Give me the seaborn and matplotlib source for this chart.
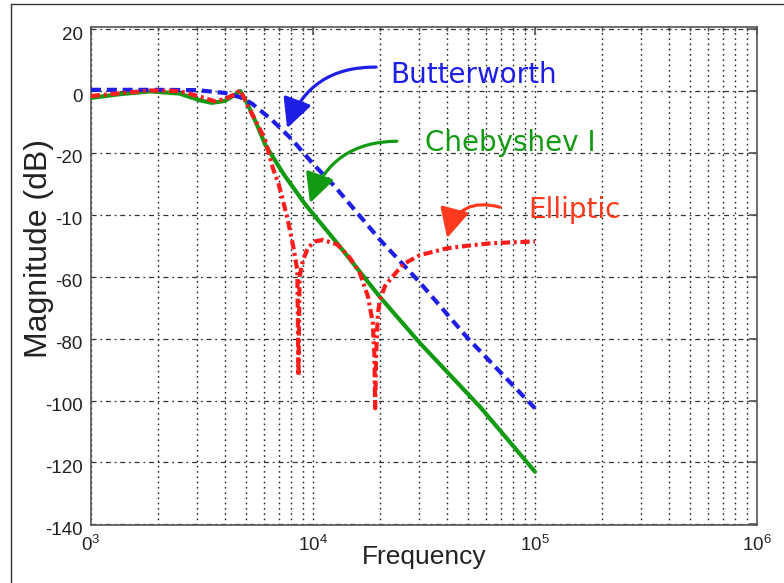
import matplotlib
matplotlib.use('Agg')
import matplotlib.pyplot as plt
import matplotlib.transforms as mtransforms
import seaborn as sns
import numpy as np
from matplotlib.patches import FancyArrowPatch
from matplotlib.lines import Line2D
from matplotlib.ticker import LogLocator, NullFormatter, FixedLocator

# ---------------- data ----------------
butter_f = [1000, 2000, 3000, 4000, 4700, 5300, 6500, 8000, 10000, 12600,
            20000, 30000, 50000, 100000]
butter_db = [0.4, 0.4, 0.3, -0.6, -2.0, -4.0, -9.2, -15.5, -23.5, -31.0,
             -48.0, -61.5, -80.0, -102.5]

cheby_f = [1000, 1350, 1850, 2500, 3100, 3500, 4000, 4450, 4700, 5100, 5600,
           6100, 7400, 9200, 12800, 20000, 30300, 56500, 100000]
cheby_db = [-2.2, -1.0, -0.1, -0.8, -3.0, -3.8, -3.2, -1.2, 0.0, -4.5, -11.0,
            -17.4, -27.0, -36.5, -49.0, -66.5, -81.4, -102.0, -123.0]

ellip_f = [1000, 1350, 1850, 2500, 3100, 3600, 4000, 4450, 4700, 5100, 5650,
           6100, 6600, 7000, 7330, 7720, 8150, 8500, 8600, 8700, 9020, 9500,
           10300, 11100, 12800, 13650, 14700, 16300, 17700, 18600, 18900,
           19050, 19250, 19600, 20000, 21100, 22200, 25400, 30300, 40100,
           52000, 62700, 77200, 100000]
ellip_db = [-1.6, -0.7, 0.2, 0.0, -1.8, -3.3, -2.6, -1.0, 0.3, -5.0, -11.0,
            -16.0, -25.0, -30.0, -35.5, -42.0, -50.3, -58.0, -92.0, -60.0,
            -54.6, -50.5, -48.5, -48.1, -49.5, -51.4, -54.0, -59.0, -66.5,
            -75.0, -85.0, -102.5, -85.0, -72.0, -67.5, -63.0, -61.0, -56.0,
            -53.0, -50.8, -49.8, -49.2, -48.9, -48.6]

y_ticks = [20, 0, -20, -40, -60, -80, -100, -120, -140]
y_tick_labels = ['20', '0', '-20', '-10', '-60', '-80', '-100', '-120', '-140']
x_ticks = [1e3, 1e4, 1e5, 1e6]
x_tick_labels = [r'$\mathregular{0^3}$', r'$\mathregular{10^4}$',
                 r'$\mathregular{10^5}$', r'$\mathregular{10^6}$']

names = ['Butterworth', 'Chebyshev I', 'Elliptic']

# ---------------- style ----------------
sns.set_style("white")
plt.rcParams['font.family'] = ['Liberation Sans', 'DejaVu Sans']

BLUE = '#1e1ee6'
GREEN = '#139a13'
RED = '#ff1c1c'
RED_TXT = '#ff3a1e'

W, H = 784, 583
fig = plt.figure(figsize=(W / 100, H / 100), dpi=100)
ax = fig.add_axes([91 / W, 1 - 525 / H, (757 - 91) / W, (525 - 27) / H])
ax.set_xscale('log')

sns.lineplot(x=cheby_f, y=cheby_db, ax=ax, color=GREEN, lw=3.0,
             solid_capstyle='round', zorder=3)
sns.lineplot(x=butter_f, y=butter_db, ax=ax, color=BLUE, lw=3.0,
             linestyle='--', zorder=4)
ax.lines[-1].set_dashes([2.4, 1.4])
sns.lineplot(x=ellip_f, y=ellip_db, ax=ax, color=RED, lw=3.0,
             linestyle='-.', zorder=5)
ax.lines[-1].set_dashes([2.2, 0.9, 0.7, 0.9])

ax.set_xlim(1e3, 1e6)
ax.set_ylim(-140.2, 20.7)

ax.xaxis.set_major_locator(FixedLocator(x_ticks))
ax.set_xticklabels(x_tick_labels)
ax.xaxis.set_minor_locator(LogLocator(base=10, subs=np.arange(2, 10), numticks=30))
ax.xaxis.set_minor_formatter(NullFormatter())
ax.set_yticks(y_ticks)
ax.set_yticklabels(y_tick_labels)

ax.set_axisbelow(True)
ax.grid(True, which='major', axis='y', linestyle=(0, (4, 3, 1.5, 3)),
        color='#333333', lw=0.9)
ax.grid(True, which='both', axis='x', linestyle=(0, (1.2, 2.6)),
        color='#222222', lw=1.0)

for s in ax.spines.values():
    s.set_color('#555555')
    s.set_linewidth(1.2)

ax.tick_params(which='both', direction='in', top=True, right=True,
               colors='#555555')
ax.tick_params(which='major', length=6, width=1.2)
ax.tick_params(which='minor', length=3, width=1.0)
ax.tick_params(axis='y', labelsize=13.5, labelcolor='#222222', pad=6)
ax.tick_params(axis='x', labelsize=13.5, labelcolor='#222222', pad=7)

# y tick labels sit slightly below their ticks in the reference
offset = mtransforms.ScaledTranslation(0, -4 / 100, fig.dpi_scale_trans)
for lab in ax.get_yticklabels():
    lab.set_transform(lab.get_transform() + offset)

ax.set_xlabel('Frequency', fontsize=19, color='#222222')
ax.set_ylabel('Magnitude (dB)', fontsize=23, color='#222222')
ax.xaxis.set_label_coords(0.5, -0.040)
ax.yaxis.set_label_coords(-0.0555, 0.555)

# ---------------- annotations ----------------
ax.text(22230, 5.2, names[0], color=BLUE, fontsize=20,
        family='DejaVu Sans', ha='left', va='center')
ax.text(31960, -16.8, names[1], color=GREEN, fontsize=20,
        family='DejaVu Sans', ha='left', va='center')
ax.text(92860, -38.4, names[2], color=RED_TXT, fontsize=20,
        family='DejaVu Sans', ha='left', va='center')

arrow_specs = [
    ((19230, 7.75), (7640, -12.0), BLUE, 0.35),
    ((23880, -16.2), (9694, -36.2), GREEN, 0.35),
    ((69500, -37.5), (40200, -47.5), RED_TXT, 0.5),
]
for tail, head, col, rad in arrow_specs:
    arr = FancyArrowPatch(posA=tail, posB=head,
                          arrowstyle='-|>,head_length=0.9,head_width=0.45',
                          connectionstyle=f'arc3,rad={rad}',
                          mutation_scale=20, lw=2.3, color=col,
                          shrinkA=0, shrinkB=0, zorder=6)
    ax.add_patch(arr)

# outer frame (left and top edges visible in reference)
fig.add_artist(Line2D([10.5 / W, 10.5 / W], [0, 1 - 3.5 / H],
                      transform=fig.transFigure, color='#333333', lw=1.0))
fig.add_artist(Line2D([10.5 / W, 1], [1 - 3.5 / H, 1 - 3.5 / H],
                      transform=fig.transFigure, color='#333333', lw=1.0))

fig.savefig('out.png', dpi=100)
